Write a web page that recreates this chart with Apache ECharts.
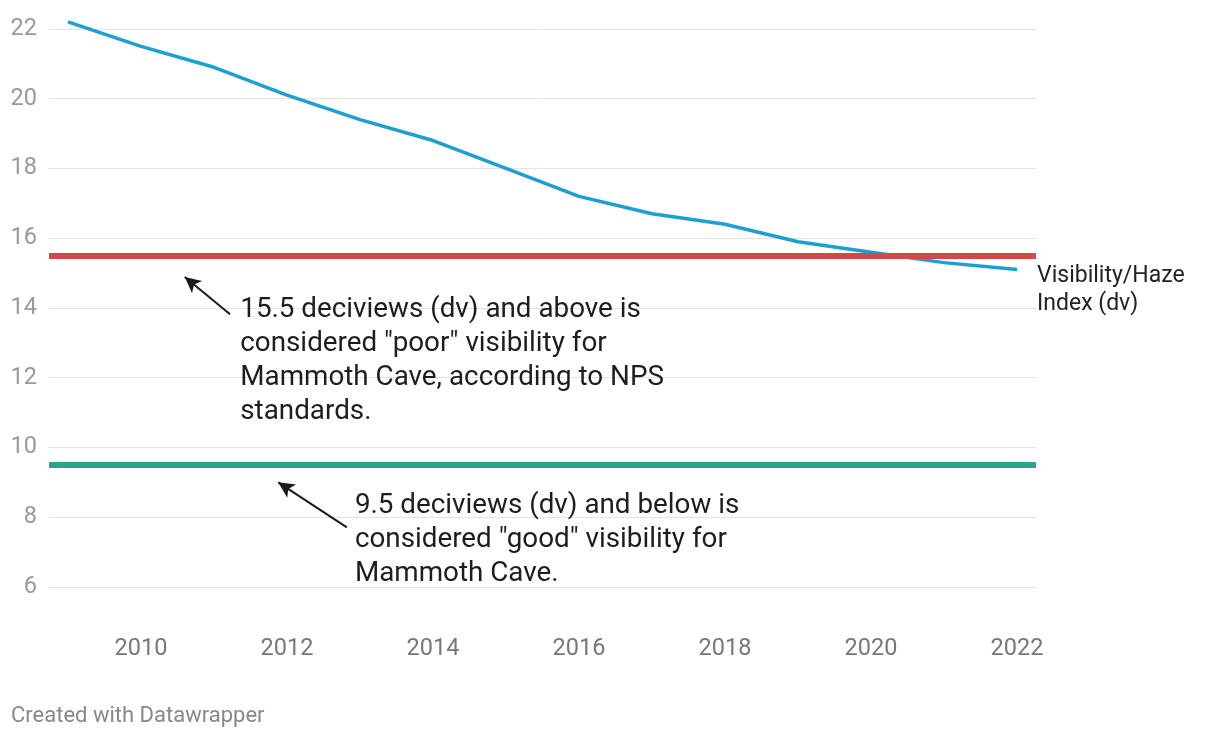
<!DOCTYPE html>
<html>
<head>
<meta charset="utf-8">
<script src="https://cdn.jsdelivr.net/npm/echarts@6/dist/echarts.min.js"></script>
<style>
html,body{margin:0;padding:0;background:#fff;}
#chart{width:1220px;height:738px;}
</style>
</head>
<body>
<div id="chart"></div>
<script>
const years = [2009,2010,2011,2012,2013,2014,2015,2016,2017,2018,2019,2020,2021,2022];
const haze = [22.2,21.5,20.9,20.1,19.4,18.8,18.0,17.2,16.7,16.4,15.9,15.6,15.3,15.1];
const xTickLabels = [2010,2012,2014,2016,2018,2020,2022];
const poorThreshold = 15.5;
const goodThreshold = 9.5;
const seriesName = 'Visibility/Haze\nIndex (dv)';
const poorNote = '15.5 deciviews (dv) and above is\nconsidered "poor" visibility for\nMammoth Cave, according to NPS\nstandards.';
const goodNote = '9.5 deciviews (dv) and below is\nconsidered "good" visibility for\nMammoth Cave.';
const poorArrow = [[2011.22, 13.82], [2010.60, 14.89]];
const goodArrow = [[2012.82, 7.71], [2011.88, 9.0]];
const poorNotePos = [2011.36, 14.43];
const goodNotePos = [2012.93, 8.80];

const FONT = 'Roboto, "Noto Sans", sans-serif';
const chart = echarts.init(document.getElementById('chart'), null, {renderer: 'canvas'});

const option = {
  animation: false,
  backgroundColor: '#ffffff',
  grid: {left: 49, right: 184, top: 8, bottom: 151, containLabel: false},
  xAxis: {
    type: 'value',
    min: 2008.74,
    max: 2022.26,
    splitLine: {show: false},
    axisLine: {show: false},
    axisTick: {show: false},
    axisLabel: {
      customValues: xTickLabels,
      formatter: v => String(v),
      color: '#777777',
      fontSize: 23.5,
      fontFamily: FONT,
      margin: 50
    }
  },
  yAxis: {
    type: 'value',
    min: 6,
    max: 22.6,
    interval: 2,
    axisLine: {show: false},
    axisTick: {show: false},
    splitLine: {showMaxLine: false, lineStyle: {color: '#e3e3e3', width: 1}},
    axisLabel: {
      color: '#999999',
      fontSize: 23.5,
      fontFamily: FONT,
      margin: 12,
      showMaxLabel: false,
      formatter: v => (v > 22.5 ? '' : String(v))
    }
  },
  series: [
    {
      type: 'line',
      data: years.map((y, i) => [y, haze[i]]),
      showSymbol: false,
      lineStyle: {color: '#1ba0cf', width: 3.5},
      z: 3
    },
    {
      type: 'line',
      data: [],
      markLine: {
        silent: true,
        symbol: ['none', 'none'],
        label: {show: false},
        data: [
          {yAxis: poorThreshold, lineStyle: {color: '#d44848', width: 6, type: 'solid'}},
          {yAxis: goodThreshold, lineStyle: {color: '#2ea38b', width: 6, type: 'solid'}}
        ]
      },
      z: 2
    },
    {
      type: 'line',
      data: [],
      markLine: {
        silent: true,
        symbol: ['none', 'arrow'],
        symbolSize: [12, 16],
        label: {show: false},
        lineStyle: {color: '#1a1a1a', width: 2, type: 'solid'},
        data: [
          [{coord: poorArrow[0]}, {coord: poorArrow[1]}],
          [{coord: goodArrow[0]}, {coord: goodArrow[1]}]
        ]
      },
      z: 4
    }
  ]
};
chart.setOption(option);

const p1 = chart.convertToPixel({gridIndex: 0}, poorNotePos);
const p2 = chart.convertToPixel({gridIndex: 0}, goodNotePos);
const pEnd = chart.convertToPixel({gridIndex: 0}, [years[years.length - 1], haze[haze.length - 1]]);

chart.setOption({
  graphic: [
    {
      type: 'text', left: p1[0], top: p1[1], z: 10,
      style: {text: poorNote, fill: '#1d1d1d', font: '27.8px ' + FONT, lineHeight: 34}
    },
    {
      type: 'text', left: p2[0], top: p2[1], z: 10,
      style: {text: goodNote, fill: '#1d1d1d', font: '27.8px ' + FONT, lineHeight: 34}
    },
    {
      type: 'text', left: pEnd[0] + 20, top: pEnd[1] - 7, z: 10,
      style: {text: seriesName, fill: '#222222', font: '23px ' + FONT, lineHeight: 28}
    },
    {
      type: 'text', left: 11, top: 705, z: 10,
      style: {text: 'Created with Datawrapper', fill: '#888888', font: '22px ' + FONT}
    }
  ]
});
</script>
</body>
</html>
